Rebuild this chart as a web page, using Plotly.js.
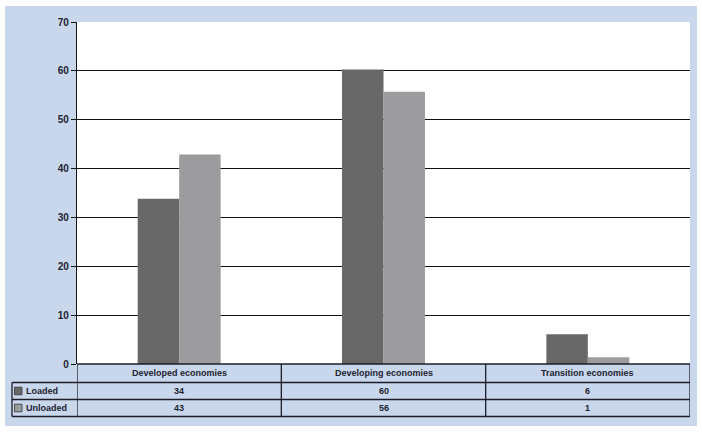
<!DOCTYPE html>
<html>
<head>
<meta charset="utf-8">
<script src="https://cdn.plot.ly/plotly-3.0.1.min.js"></script>
<style>
html,body{margin:0;padding:0;background:#fff;}
#chart{width:702px;height:433px;}
</style>
</head>
<body>
<div id="chart"></div>
<script>
// ---- data ----
const categories = ['Developed economies', 'Developing economies', 'Transition economies'];
const seriesNames = ['Loaded', 'Unloaded'];
const loaded = [33.8, 60.3, 6.1];
const unloaded = [42.9, 55.7, 1.4];
const loadedTable = ['34', '60', '6'];
const unloadedTable = ['43', '56', '1'];
const yTicks = [0, 10, 20, 30, 40, 50, 60, 70];

// ---- style ----
const W = 702, H = 433;
const M = {l: 77, r: 12, t: 22, b: 69};
const PW = W - M.l - M.r, PH = H - M.t - M.b;
const BLUE = '#c8d7eb';
const LINE = '#1c1c2a';
const TXT = '#222230';
const FONT = '"Liberation Sans Narrow", "Arial Narrow", "Liberation Sans", Arial, sans-serif';
const colLoaded = '#686868';
const colUnloaded = '#9c9c9e';

const px = x => (x - M.l) / PW;          // pixel x -> paper x
const py = y => (M.t + PH - y) / PH;     // pixel y -> paper y

const rowTops = [364, 382.5, 399.5, 416.5];
const tableLeft = 12;

const shapes = [];
const annotations = [];

// blue frame background
shapes.push({type: 'rect', xref: 'paper', yref: 'paper', x0: px(5), x1: px(697), y0: py(426), y1: py(6),
  fillcolor: BLUE, line: {width: 0}, layer: 'below'});
// white plot area
shapes.push({type: 'rect', xref: 'paper', yref: 'paper', x0: 0, x1: 1, y0: 0, y1: 1,
  fillcolor: '#ffffff', line: {width: 0}, layer: 'below'});

// table horizontal lines
const lw = 1.3;
shapes.push({type: 'line', xref: 'paper', yref: 'paper', x0: 0, x1: 1, y0: py(rowTops[0]), y1: py(rowTops[0]), line: {color: LINE, width: lw}});
for (let i = 1; i < rowTops.length; i++) {
  shapes.push({type: 'line', xref: 'paper', yref: 'paper', x0: px(tableLeft), x1: 1, y0: py(rowTops[i]), y1: py(rowTops[i]), line: {color: LINE, width: lw}});
}
// table vertical lines (column boundaries on category axis)
const bounds = [-0.5, 0.5, 1.5, 2.5];
bounds.forEach(b => {
  shapes.push({type: 'line', xref: 'x', yref: 'paper', x0: b, x1: b, y0: py(rowTops[3]), y1: py(rowTops[0]), line: {color: LINE, width: lw}});
});
shapes.push({type: 'line', xref: 'paper', yref: 'paper', x0: px(tableLeft), x1: px(tableLeft), y0: py(rowTops[3]), y1: py(rowTops[1]), line: {color: LINE, width: lw}});

const mid = i => py((rowTops[i] + rowTops[i + 1]) / 2);
const cellFont = {family: FONT, size: 9, color: TXT, weight: 'bold'};

categories.forEach((c, i) => {
  annotations.push({xref: 'x', yref: 'paper', x: i, y: mid(0), text: c, showarrow: false, font: cellFont, xanchor: 'center', yanchor: 'middle'});
  annotations.push({xref: 'x', yref: 'paper', x: i, y: mid(1), text: loadedTable[i], showarrow: false, font: cellFont, xanchor: 'center', yanchor: 'middle'});
  annotations.push({xref: 'x', yref: 'paper', x: i, y: mid(2), text: unloadedTable[i], showarrow: false, font: cellFont, xanchor: 'center', yanchor: 'middle'});
});

// legend keys inside table
[colLoaded, colUnloaded].forEach((col, k) => {
  const cy = (rowTops[k + 1] + rowTops[k + 2]) / 2;
  shapes.push({type: 'rect', xref: 'paper', yref: 'paper', x0: px(14.5), x1: px(22), y0: py(cy + 3.8), y1: py(cy - 3.8),
    fillcolor: col, line: {color: '#333', width: 0.8}});
  annotations.push({xref: 'paper', yref: 'paper', x: px(23.5), y: py(cy), text: seriesNames[k], showarrow: false,
    font: cellFont, xanchor: 'left', yanchor: 'middle'});
});

const traces = [
  {type: 'bar', name: seriesNames[0], x: categories, y: loaded, marker: {color: colLoaded, line: {width: 0}}, hoverinfo: 'y'},
  {type: 'bar', name: seriesNames[1], x: categories, y: unloaded, marker: {color: colUnloaded, line: {width: 0}}, hoverinfo: 'y'}
];

const layout = {
  width: W, height: H,
  margin: M,
  paper_bgcolor: '#ffffff',
  plot_bgcolor: 'rgba(0,0,0,0)',
  showlegend: false,
  barmode: 'group',
  bargap: 0.594,
  bargroupgap: 0,
  xaxis: {type: 'category', range: [-0.5, 2.5], showticklabels: false, showgrid: false, zeroline: false, showline: false, ticks: '', fixedrange: true},
  yaxis: {range: [0, 70], tickvals: yTicks, ticktext: yTicks.map(String), showgrid: true, gridcolor: '#111', gridwidth: 1.2,
    zeroline: false, showline: true, linecolor: '#111', linewidth: 1.2, ticks: 'outside', ticklen: 5, tickcolor: '#111',
    tickfont: {family: FONT, size: 10, color: TXT, weight: 'bold'}, fixedrange: true},
  shapes: shapes,
  annotations: annotations,
  font: {family: FONT}
};

Plotly.newPlot('chart', traces, layout, {displayModeBar: false, staticPlot: true});
</script>
</body>
</html>
